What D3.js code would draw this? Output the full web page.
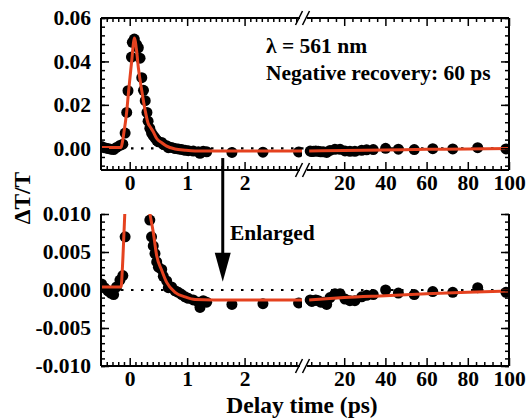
<!DOCTYPE html>
<html lang="en">
<head>
<meta charset="UTF-8">
<title>Delta T/T at 561 nm</title>
<style>
  body { margin: 0; background: #fff; }
  svg text { font-family: "Liberation Serif", "Times New Roman", Times, "DejaVu Serif", serif !important; font-weight: bold; fill: #000; }
</style>
</head>
<body>
<svg id="chart" width="527" height="420"></svg>
<script src="https://d3js.org/d3.v7.min.js"></script>
<script>
// measured points, early window (ps) and late window (ps)
const tEarly = [-0.49, -0.44, -0.38, -0.33, -0.28, -0.23, -0.17, -0.12, -0.08, -0.052, -0.03, 0.03, 0.045, 0.08,
  0.12, 0.15, 0.18, 0.21, 0.24, 0.27, 0.30, 0.32, 0.35, 0.38, 0.41, 0.44, 0.47, 0.50, 0.557, 0.585, 0.644,
  0.672, 0.73, 0.79, 0.846, 0.905, 0.963, 1.02, 1.107, 1.195, 1.224, 1.28, 1.34, 1.78, 2.32, 2.94];
const vEarly = [0.0008, 0.0003, -0.0001, -0.0004, -0.0006, 0.0004, 0.0013, 0.0019, 0.0070, 0.0165, 0.0265, 0.0420, 0.0488, 0.0503,
  0.0477, 0.0463, 0.0415, 0.0325, 0.0267, 0.0219, 0.0165, 0.0125, 0.0092, 0.0070, 0.0058, 0.0048, 0.0037, 0.0030, 0.0027, 0.0018, 0.0012,
  0.0003, 0.0004, -0.0001, -0.0003, -0.0006, -0.0009, -0.0011, -0.0013, -0.0016, -0.0023, -0.0014, -0.0016, -0.0019, -0.0018, -0.0017];
const tLate = [3.5, 4.3, 5.0, 6.2, 7.4, 8.6, 9.9, 11.5, 13.1, 15.5, 18.0, 20.4, 22.8, 25.2, 28.5, 30.9, 34.1,
  40.1, 46.3, 54.0, 63.0, 72.7, 84.8, 98.5];
const vLate = [-0.0013, -0.0015, -0.0014, -0.0013, -0.0014, -0.0016, -0.0016, -0.0019, -0.0010, -0.0005, -0.0005,
  -0.0012, -0.0014, -0.0014, -0.0009, -0.0007, -0.0006, 0.0000, -0.0004, -0.0006, -0.0002, -0.0003, 0.0003, -0.0003];

// fit curve
const fitEarlyT = [-0.5, -0.15, -0.13, -0.1, -0.075, -0.05, -0.024, 0.005, 0.035, 0.063, 0.08, 0.12, 0.15, 0.21,
  0.27, 0.32, 0.36, 0.41, 0.47, 0.557, 0.644, 0.79, 0.963, 1.137, 1.46, 3.0];
const fitEarlyV = [0.0004, 0.0004, 0.0025, 0.0075, 0.012, 0.0175, 0.025, 0.0326, 0.0403, 0.048, 0.0508, 0.0449, 0.0372, 0.0265,
  0.0173, 0.0115, 0.0097, 0.0076, 0.0045, 0.0026, 0.0010, -0.0003, -0.0009, -0.00125, -0.0013, -0.0013];
const fitLateT = [3, 20, 40, 60, 80, 100];
const fitLateV = [-0.0013, -0.0010, -0.00075, -0.0005, -0.0003, -0.00012];

const yTicksTop = [0, 0.02, 0.04, 0.06];
const yLabelsTop = ["0.00", "0.02", "0.04", "0.06"];
const yTicksBot = [-0.01, -0.005, 0, 0.005, 0.01];
const yLabelsBot = ["-0.010", "-0.005", "0.000", "0.005", "0.010"];
const xTicksEarly = [0, 1, 2];
const xTicksLate = [20, 40, 60, 80, 100];

const FONT = '"Liberation Serif", "Times New Roman", Times, "DejaVu Serif", serif';
const svg = d3.select("#chart");
const left = 101, right = 509, gapL = 300, gapR = 307;
const red = "#e5421f";

const xE = d3.scaleLinear().domain([-0.5, 3]).range([101, 302]);
const xL = d3.scaleLinear().domain([0, 100]).range([303, 509]);

const early = tEarly.map((t, i) => ({ t, v: vEarly[i] }));
const late = tLate.map((t, i) => ({ t, v: vLate[i] }));
const fitEarly = fitEarlyT.map((t, i) => ({ t, v: fitEarlyV[i] }));
const fitLate = fitLateT.map((t, i) => ({ t, v: fitLateV[i] }));

const minorEarly = d3.range(-4, 30).filter(k => k % 10 !== 0).map(k => k / 10);
const minorLate = d3.range(1, 25).filter(k => k % 5 !== 0).map(k => k * 4);

const panels = [
  { id: "top", y: d3.scaleLinear().domain([-0.01, 0.06]).range([170, 18]),
    ticks: yTicksTop, labels: yLabelsTop, minor: d3.range(-2, 16).map(k => k * 0.004), hasTop: true },
  { id: "bot", y: d3.scaleLinear().domain([-0.01, 0.01]).range([366, 214]),
    ticks: yTicksBot, labels: yLabelsBot, minor: d3.range(-10, 11).map(k => k * 0.001), hasTop: false }
];

const defs = svg.append("defs");

panels.forEach(p => {
  const [y0, y1] = p.y.range(); // bottom, top
  const g = svg.append("g");

  defs.append("clipPath").attr("id", p.id + "E")
    .append("rect").attr("x", left).attr("y", y1).attr("width", xE.range()[1] - left).attr("height", y0 - y1);
  defs.append("clipPath").attr("id", p.id + "L")
    .append("rect").attr("x", xL.range()[0]).attr("y", y1).attr("width", right - xL.range()[0]).attr("height", y0 - y1);

  // zero reference
  g.append("line")
    .attr("x1", left).attr("x2", right)
    .attr("y1", p.y(0)).attr("y2", p.y(0))
    .attr("stroke", "#000").attr("stroke-width", 2.2).attr("stroke-dasharray", "2.5,7.5");

  const segs = [
    { x: xE, pts: early, fit: fitEarly, clip: p.id + "E" },
    { x: xL, pts: late, fit: fitLate, clip: p.id + "L" }
  ];
  segs.forEach(s => {
    const sg = g.append("g").attr("clip-path", `url(#${s.clip})`);
    sg.selectAll("circle").data(s.pts).join("circle")
      .attr("cx", d => s.x(d.t)).attr("cy", d => p.y(d.v))
      .attr("r", 5.5).attr("fill", "#000");
    sg.append("path").datum(s.fit)
      .attr("fill", "none").attr("stroke", red).attr("stroke-width", 3)
      .attr("d", d3.line().x(d => s.x(d.t)).y(d => p.y(d.v)).curve(d3.curveMonotoneX));
  });

  // y axes
  const yl = g.append("g").attr("transform", `translate(${left},0)`);
  yl.call(d3.axisLeft(p.y).tickValues(p.minor).tickSize(-4).tickFormat(""));
  yl.append("g").call(d3.axisLeft(p.y).tickValues(p.ticks).tickSize(-8).tickPadding(10)
    .tickFormat((d, i) => p.labels[i]));
  const yr = g.append("g").attr("transform", `translate(${right},0)`);
  yr.call(d3.axisRight(p.y).tickValues(p.minor).tickSize(-4).tickFormat(""));
  yr.append("g").call(d3.axisRight(p.y).tickValues(p.ticks).tickSize(-8).tickFormat(""));

  // x axes
  const xb = g.append("g").attr("transform", `translate(0,${y0})`);
  xb.append("g").call(d3.axisBottom(xE).tickValues(minorEarly).tickSize(-4).tickFormat(""));
  xb.append("g").call(d3.axisBottom(xE).tickValues(xTicksEarly).tickSize(-8).tickPadding(5).tickFormat(d3.format("d")));
  xb.append("g").call(d3.axisBottom(xL).tickValues(minorLate).tickSize(-4).tickFormat(""));
  xb.append("g").call(d3.axisBottom(xL).tickValues(xTicksLate).tickSize(-8).tickPadding(5).tickFormat(d3.format("d")));

  if (p.hasTop) {
    const xt = g.append("g").attr("transform", `translate(0,${y1})`);
    xt.append("g").call(d3.axisTop(xE).tickValues(minorEarly).tickSize(-4).tickFormat(""));
    xt.append("g").call(d3.axisTop(xE).tickValues(xTicksEarly).tickSize(-8).tickFormat(""));
    xt.append("g").call(d3.axisTop(xL).tickValues(minorLate).tickSize(-4).tickFormat(""));
    xt.append("g").call(d3.axisTop(xL).tickValues(xTicksLate).tickSize(-8).tickFormat(""));
  }

  g.selectAll(".domain").remove();
  g.selectAll("g").attr("font-family", FONT);
  g.selectAll(".tick line").attr("stroke", "#000").attr("stroke-width", 1.5);
  g.selectAll(".tick text").attr("font-size", 21.5).attr("font-family", FONT).attr("font-weight", "bold");

  // frame with axis break
  const frame = g.append("g").attr("stroke", "#000").attr("stroke-width", 2).attr("fill", "none");
  frame.append("line").attr("x1", left).attr("x2", left).attr("y1", y1).attr("y2", y0);
  frame.append("line").attr("x1", right).attr("x2", right).attr("y1", y1).attr("y2", y0);
  const hy = p.hasTop ? [y1, y0] : [y0];
  hy.forEach(yy => {
    frame.append("line").attr("x1", left).attr("x2", gapL).attr("y1", yy).attr("y2", yy);
    frame.append("line").attr("x1", gapR).attr("x2", right).attr("y1", yy).attr("y2", yy);
    [gapL - 1, gapR - 1].forEach(cx => {
      frame.append("line").attr("stroke-width", 1.5)
        .attr("x1", cx - 3.5).attr("y1", yy + 7).attr("x2", cx + 3.5).attr("y2", yy - 7);
    });
  });
});

const yTop = panels[0].y, yBot = panels[1].y;

// annotations
const label = (x, y, s, txt) => svg.append("text").attr("x", x).attr("y", y)
  .attr("font-family", FONT).attr("font-weight", "bold").attr("font-size", s).text(txt);
label(266, 53, 21.5, "λ = 561 nm");
label(266, 80, 21.5, "Negative recovery: 60 ps");
label(230, 240, 21.5, "Enlarged");

const ax = xE(1.62);
svg.append("line").attr("x1", ax).attr("x2", ax)
  .attr("y1", yTop(-0.0045)).attr("y2", yBot(0.0045))
  .attr("stroke", "#000").attr("stroke-width", 3);
svg.append("path")
  .attr("d", `M${ax - 8},${yBot(0.0049)} L${ax + 8},${yBot(0.0049)} L${ax},${yBot(0.0011)} Z`)
  .attr("fill", "#000");

// axis titles
label(0, 0, 23.5, "ΔT/T").attr("transform", "translate(30,198) rotate(-90)").attr("text-anchor", "middle");
label(302, 413, 23.5, "Delay time (ps)").attr("text-anchor", "middle");
</script>
</body>
</html>
